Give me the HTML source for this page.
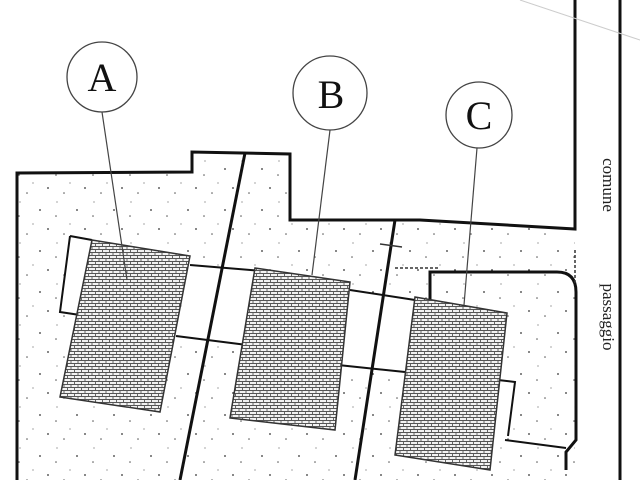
<!DOCTYPE html>
<html><head><meta charset="utf-8"><style>html,body{margin:0;padding:0;background:#fff}svg{display:block}</style></head><body>
<svg width="640" height="480" viewBox="0 0 640 480" xmlns="http://www.w3.org/2000/svg">
<defs>
<pattern id="dots" width="37" height="41" patternUnits="userSpaceOnUse">
<circle cx="3" cy="5" r="0.9" fill="#333"/><circle cx="19" cy="11" r="0.8" fill="#555"/><circle cx="11" cy="24" r="0.9" fill="#333"/><circle cx="27" cy="29" r="0.8" fill="#555"/><circle cx="33" cy="19" r="0.6" fill="#666"/><circle cx="20" cy="38" r="0.6" fill="#666"/>
</pattern>
<pattern id="brick" width="7" height="6" patternUnits="userSpaceOnUse">
<rect width="7" height="6" fill="#f2f2f2"/>
<path d="M0 0.5H7M0 3.5H7M1 0V3M4.5 3V6" stroke="#555" stroke-width="0.9"/>
</pattern>
</defs>
<rect width="640" height="480" fill="#fff"/>
<polygon points="17,173 192,172 192,152 245,153 180,480 17,480" fill="url(#dots)"/>
<polygon points="245,153 290,154 290,220 395,220 355,480 180,480" fill="url(#dots)"/>
<polygon points="395,220 420,220 575,229 575,300 575,480 355,480" fill="url(#dots)"/>
<!-- white annex areas -->
<g fill="#fff">
<polygon points="70,236 92,240 80,315 60,312"/>
<polygon points="190,265 262,271 247,345 176,336"/>
<polygon points="350,290 415,300 405,372 338,365"/>
<polygon points="498,380 515,382 508,436 495,436"/>
</g>
<g fill="none" stroke="#111" stroke-width="3">
<polyline points="17,480 17,173 192,172 192,152 290,154 290,220 420,220 575,229 575,0"/>
<line x1="245" y1="153" x2="180" y2="480"/>
<line x1="395" y1="220" x2="355" y2="480"/>
<line x1="620" y1="0" x2="620" y2="480"/>
<path d="M430,300 V272 H557 Q576,272 576,292 V440 L566,452 V470"/>
<line x1="505" y1="440" x2="566" y2="448" stroke-width="2"/>
</g>
<line x1="520" y1="0" x2="640" y2="40" stroke="#ccc" stroke-width="1"/>
<path d="M395,268 H438 M575,250 V285" stroke="#333" stroke-width="1.5" stroke-dasharray="3,2" fill="none"/>
<line x1="380" y1="244" x2="402" y2="247" stroke="#333" stroke-width="1.5"/>
<g stroke="#111" stroke-width="2" fill="none">
<polyline points="70,236 60,312 80,315"/>
<line x1="70" y1="236" x2="92" y2="240"/>
<polyline points="190,265 262,271"/>
<polyline points="176,336 247,345"/>
<polyline points="350,290 415,300"/>
<polyline points="338,365 405,372"/>
<polyline points="498,380 515,382 508,436"/>
</g>
<g stroke="#333" stroke-width="1.5">
<polygon points="92,240 190,256 160,412 60,397" fill="url(#brick)"/>
<polygon points="255,268 350,282 335,430 230,418" fill="url(#brick)"/>
<polygon points="415,297 507,313 490,470 395,455" fill="url(#brick)"/>
</g>
<g fill="#fff" stroke="#444" stroke-width="1.3">
<circle cx="102" cy="77" r="35"/>
<circle cx="330" cy="93" r="37"/>
<circle cx="479" cy="115" r="33"/>
</g>
<g stroke="#444" stroke-width="1.2">
<line x1="102" y1="112" x2="127" y2="280"/>
<line x1="330" y1="130" x2="312" y2="275"/>
<line x1="477" y1="148" x2="464" y2="305"/>
</g>
<g font-family="Liberation Serif, serif" font-size="40" text-anchor="middle" fill="#111">
<text x="102" y="91">A</text><text x="331" y="108">B</text><text x="479" y="129">C</text>
</g>
<g font-family="Liberation Serif, serif" font-size="17" fill="#222">
<text transform="translate(603,185) rotate(90)" text-anchor="middle">comune</text>
<text transform="translate(603,317) rotate(90)" text-anchor="middle">passaggio</text>
</g>
</svg>
</body></html>
